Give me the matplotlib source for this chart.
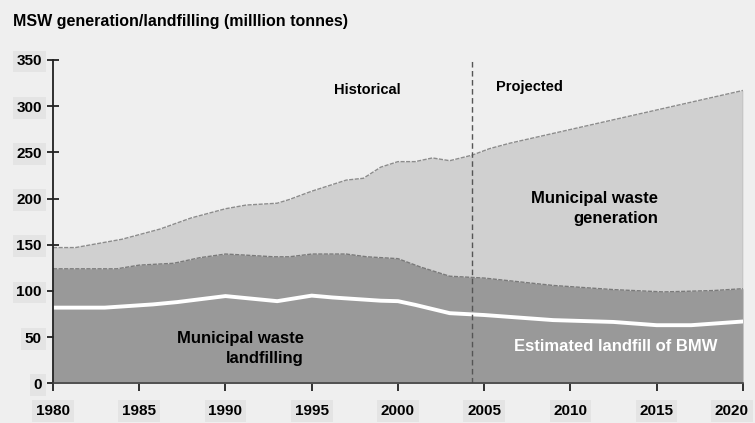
import matplotlib.pyplot as plt
import matplotlib.transforms as mtransforms
import numpy as np

# MSW generation (million tonnes)
gen_years = [1980, 1981.3, 1984, 1986.2, 1988, 1990, 1991.2, 1993, 1993.7, 1995, 1996,
             1997, 1998, 1999, 2000, 2001, 2002, 2003, 2004.3, 2005.3, 2006.5, 2020]
gen_values = [147, 147, 156, 167, 179, 189, 193, 195, 199, 208, 214,
              220, 222, 234, 240, 240, 244, 241, 247, 254, 260, 317]

# municipal waste landfilled
fill_years = [1980, 1983.7, 1985, 1987, 1988.5, 1990, 1991, 1992.8, 1993.7, 1995, 1997,
              1998.2, 2000, 2001.3, 2003, 2005, 2009, 2012.5, 2015.4, 2018.3, 2020]
fill_values = [124, 124, 128, 130, 136, 140, 139, 137, 137, 140, 140,
               137, 135, 126, 116, 114, 106, 101.5, 99, 100.5, 102.5]

# estimated landfill of biodegradable municipal waste
bmw_years = [1980, 1983, 1985.8, 1987.2, 1990, 1993, 1995, 1996.2, 1999, 2000,
             2001, 2003, 2005, 2009, 2012.5, 2015, 2017, 2020]
bmw_values = [82, 82, 85.5, 88, 94.5, 89, 95, 93, 89.5, 89,
              85, 76, 74, 68.5, 66.5, 63, 63, 67]

split_year = 2004.3
bg = "#efefef"

fig = plt.figure(figsize=(7.55, 4.23), dpi=100, facecolor=bg)
ax = fig.add_axes([0.0702, 0.0936, 0.9138, 0.7646], facecolor=bg)

ax.fill_between(gen_years, gen_values, color="#d0d0d0", lw=0, zorder=1)
ax.plot(gen_years, gen_values, color="#8c8c8c", lw=1, ls=(0, (3, 1)), zorder=2)
ax.fill_between(fill_years, fill_values, color="#999999", lw=0, zorder=3)
ax.plot(fill_years, fill_values, color="#7a7a7a", lw=1, ls=(0, (3, 1)), zorder=4)
ax.plot(bmw_years, bmw_values, color="white", lw=2.8, zorder=5)
ax.plot([2020, 2020], [0, gen_values[-1]], color="#a0a0a0", lw=1, zorder=4)

ax.axvline(split_year, color="#555555", lw=1, ls=(0, (4, 2.5)), zorder=6)

ax.set_xlim(1980, 2020)
ax.set_ylim(0, 350)
ax.set_xticks(np.arange(1980, 2021, 5))
ax.set_yticks(np.arange(0, 351, 50))

for s in ["top", "right"]:
    ax.spines[s].set_visible(False)
ax.spines["left"].set_color("#222222")
ax.spines["bottom"].set_color("#444444")
ax.spines["left"].set_linewidth(1.3)
ax.spines["bottom"].set_linewidth(1.2)
ax.spines["left"].set_zorder(7)
ax.spines["bottom"].set_zorder(7)

ax.tick_params(axis="y", direction="inout", length=8, width=1.3, color="#222222", pad=4)
ax.tick_params(axis="x", direction="out", length=6, width=1.3, color="#222222", pad=9)

label_box = dict(boxstyle="square,pad=0.25", fc="#e4e4e4", ec="none")
for lab in ax.get_xticklabels() + ax.get_yticklabels():
    lab.set_fontweight("bold")
    lab.set_fontsize(11)
    lab.set_fontfamily("Liberation Sans")
    lab.set_bbox(label_box)

# keep the last year label inside the figure
last = ax.get_xticklabels()[-1]
last.set_transform(last.get_transform() +
                   mtransforms.ScaledTranslation(-8 / 72, 0, fig.dpi_scale_trans))

font = dict(family="Liberation Sans", weight="bold")
fig.text(0.017, 0.948, "MSW generation/landfilling (milllion tonnes)", fontsize=11.5,
         va="center", ha="left", **font)

ax.text(1998.2, 317, "Historical", fontsize=10.5, ha="center", va="center", **font)
ax.text(2007.6, 320.5, "Projected", fontsize=10.5, ha="center", va="center", **font)
ax.text(2015.1, 189, "Municipal waste\ngeneration", fontsize=12, ha="right", va="center",
        linespacing=1.45, **font)
ax.text(1994.55, 38, "Municipal waste\nlandfilling", fontsize=12, ha="right", va="center",
        linespacing=1.45, **font)
ax.text(2018.5, 40, "Estimated landfill of BMW", fontsize=12, ha="right", va="center",
        color="white", **font)

fig.savefig("out.png", dpi=100, facecolor=bg)
